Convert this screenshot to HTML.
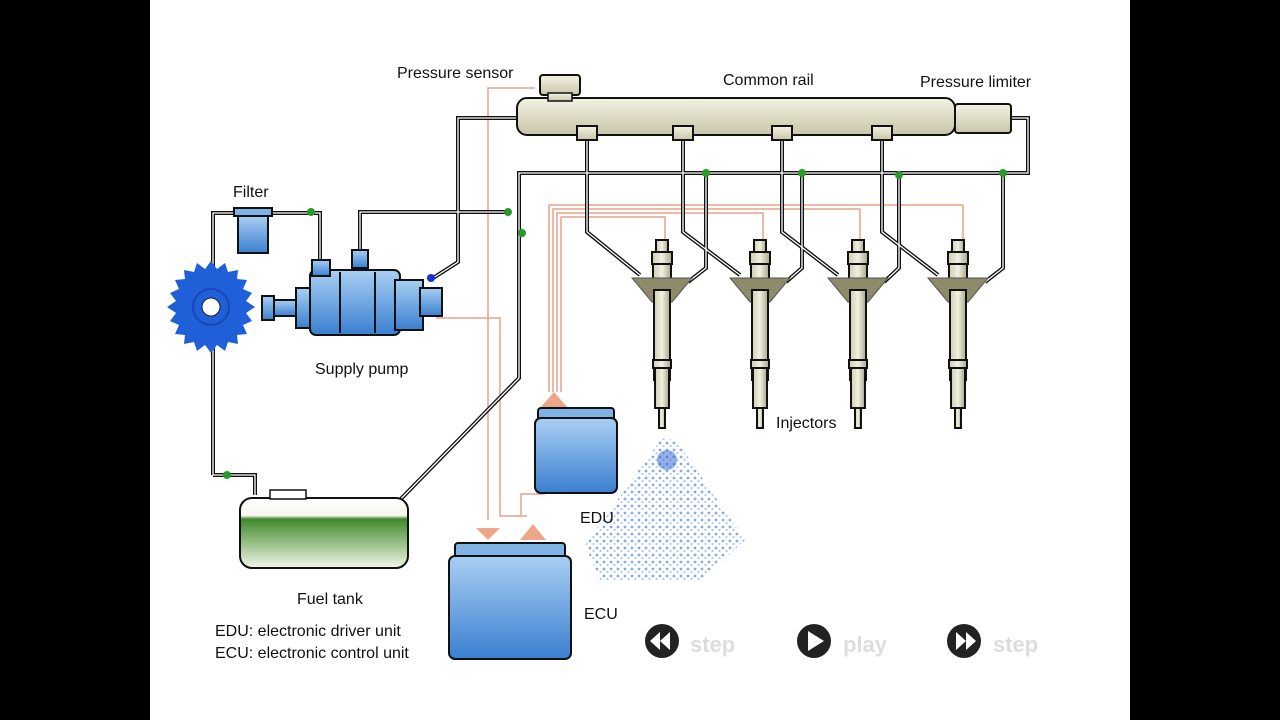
<!DOCTYPE html>
<html><head><meta charset="utf-8"><style>
html,body{margin:0;padding:0;background:#000;width:1280px;height:720px;overflow:hidden}
svg{display:block}
text{font-family:"Liberation Sans",sans-serif;font-size:16px;fill:#111}
</style></head><body>
<svg width="1280" height="720" viewBox="0 0 1280 720">
<defs>
<linearGradient id="rail" x1="0" y1="0" x2="0" y2="1"><stop offset="0" stop-color="#f4f2e4"/><stop offset="1" stop-color="#c9c5a8"/></linearGradient>
<linearGradient id="blue" x1="0" y1="0" x2="0" y2="1"><stop offset="0" stop-color="#a9cff3"/><stop offset="1" stop-color="#3b7fd0"/></linearGradient>
<linearGradient id="tank" x1="0" y1="0" x2="0" y2="1"><stop offset="0" stop-color="#fff"/><stop offset="0.25" stop-color="#f6f6ee"/><stop offset="0.3" stop-color="#3f8a2a"/><stop offset="1" stop-color="#f2f6e8"/></linearGradient>
<linearGradient id="inj" x1="0" y1="0" x2="1" y2="0"><stop offset="0" stop-color="#cfcdb4"/><stop offset="0.5" stop-color="#f2f0e0"/><stop offset="1" stop-color="#a9a78c"/></linearGradient>
<pattern id="dots" width="7" height="7" patternUnits="userSpaceOnUse">
<rect width="7" height="7" fill="#fff"/>
<circle cx="2" cy="2" r="1.4" fill="#5b8fe0"/><circle cx="5.5" cy="5" r="1.1" fill="#8fb4ea"/>
</pattern>
<g id="injector">
<rect x="-6" y="0" width="12" height="12" fill="url(#inj)" stroke="#111" stroke-width="2"/>
<rect x="-10" y="12" width="20" height="12" fill="url(#inj)" stroke="#111" stroke-width="2"/>
<rect x="-9" y="24" width="18" height="26" fill="url(#inj)" stroke="#111" stroke-width="2"/>
<polygon points="-30,38 30,38 10,62 -10,62" fill="#8d8b6a" stroke="#555" stroke-width="1"/>
<rect x="-8" y="50" width="16" height="90" fill="url(#inj)" stroke="#111" stroke-width="2"/>
<rect x="-9" y="120" width="18" height="8" fill="url(#inj)" stroke="#111" stroke-width="2"/>
<rect x="-7" y="128" width="14" height="40" fill="url(#inj)" stroke="#111" stroke-width="2"/>
<rect x="-3" y="168" width="6" height="20" fill="url(#inj)" stroke="#111" stroke-width="2"/>
</g>
</defs>
<rect x="0" y="0" width="1280" height="720" fill="#000"/>
<rect x="150" y="0" width="980" height="720" fill="#fff"/>

<g fill="none" stroke="#e9a38a" stroke-width="1.5">
<path d="M535,88 H488 V520"/>
<path d="M436,318 H500 V516 H527"/>
<path d="M549,392 V205 H963 V240"/>
<path d="M553,392 V209 H860 V240"/>
<path d="M557,392 V213 H763 V240"/>
<path d="M561,392 V217 H665 V240"/>
<path d="M521,516 V494 H545"/>
</g>
<polygon points="476,528 500,528 488,540" fill="#eea58a"/>
<polygon points="520,540 546,540 533,524" fill="#eea58a"/>
<polygon points="540,408 568,408 554,392" fill="#eea58a"/>

<g fill="none" stroke="#111" stroke-width="4">
<path d="M213,475 V213 H320 V262"/>
<path d="M360,255 V212 H508"/>
<path d="M430,280 L458,262 V118 H517"/>
<path d="M392,508 L519,378 V173 H1028 V118 H1010"/>
<path d="M587,140 V232 L640,275"/>
<path d="M683,140 V232 L740,275"/>
<path d="M782,140 V232 L838,275"/>
<path d="M882,140 V232 L938,275"/>
<path d="M706,173 V268 L688,282"/>
<path d="M802,173 V268 L786,282"/>
<path d="M899,173 V268 L884,282"/>
<path d="M1003,173 V268 L985,282"/>
<path d="M213,475 H255 V495"/>
</g>
<g fill="none" stroke="#fff" stroke-width="1.3">
<path d="M213,475 V213 H320 V262"/>
<path d="M360,255 V212 H508"/>
<path d="M430,280 L458,262 V118 H517"/>
<path d="M392,508 L519,378 V173 H1028 V118 H1010"/>
<path d="M587,140 V232 L640,275"/>
<path d="M683,140 V232 L740,275"/>
<path d="M782,140 V232 L838,275"/>
<path d="M882,140 V232 L938,275"/>
<path d="M706,173 V268 L688,282"/>
<path d="M802,173 V268 L786,282"/>
<path d="M899,173 V268 L884,282"/>
<path d="M1003,173 V268 L985,282"/>
<path d="M213,475 H255 V495"/>
</g>
<g fill="#2a9a2a">
<circle cx="311" cy="212" r="4"/><circle cx="508" cy="212" r="4"/><circle cx="522" cy="233" r="4"/>
<circle cx="706" cy="173" r="4"/><circle cx="802" cy="173" r="4"/><circle cx="899" cy="175" r="4"/><circle cx="1003" cy="173" r="4"/><circle cx="227" cy="475" r="4"/>
</g>
<circle cx="431" cy="278" r="4" fill="#1a2fd0"/>

<rect x="517" y="98" width="438" height="37" rx="10" fill="url(#rail)" stroke="#111" stroke-width="2"/>
<rect x="955" y="104" width="56" height="29" rx="3" fill="url(#rail)" stroke="#111" stroke-width="2"/>
<rect x="540" y="75" width="40" height="20" rx="3" fill="url(#rail)" stroke="#111" stroke-width="2"/>
<rect x="548" y="93" width="24" height="8" fill="url(#rail)" stroke="#111" stroke-width="1.5"/>
<g fill="url(#rail)" stroke="#111" stroke-width="2">
<rect x="577" y="126" width="20" height="14"/><rect x="673" y="126" width="20" height="14"/><rect x="772" y="126" width="20" height="14"/><rect x="872" y="126" width="20" height="14"/>
</g>

<use href="#injector" x="662" y="240"/>
<use href="#injector" x="760" y="240"/>
<use href="#injector" x="858" y="240"/>
<use href="#injector" x="958" y="240"/>

<rect x="234" y="208" width="38" height="8" fill="#7fb3e6" stroke="#111" stroke-width="2"/>
<rect x="238" y="216" width="30" height="37" fill="url(#blue)" stroke="#111" stroke-width="2"/>

<g transform="translate(211,307)">
<polygon fill="#1f5fd8" points="0,-46 6,-38 14,-44 17,-35 27,-37 26,-28 36,-27 32,-18 41,-14 35,-6 44,0 35,6 41,14 32,18 36,27 26,28 27,37 17,35 14,44 6,38 0,46 -6,38 -14,44 -17,35 -27,37 -26,28 -36,27 -32,18 -41,14 -35,6 -44,0 -35,-6 -41,-14 -32,-18 -36,-27 -26,-28 -27,-37 -17,-35 -14,-44 -6,-38"/>
<circle r="18" fill="none" stroke="#1848b0" stroke-width="2"/>
<circle r="9" fill="#fff" stroke="#123" stroke-width="1"/>
</g>

<g stroke="#111" stroke-width="2" fill="url(#blue)">
<rect x="262" y="296" width="12" height="24"/>
<rect x="274" y="300" width="30" height="16"/>
<rect x="296" y="288" width="20" height="40"/>
<rect x="310" y="270" width="90" height="65" rx="6"/>
<rect x="395" y="280" width="28" height="50"/>
<rect x="420" y="288" width="22" height="28"/>
<rect x="312" y="260" width="18" height="16"/>
<rect x="352" y="250" width="16" height="18"/>
<line x1="340" y1="272" x2="340" y2="333"/>
<line x1="375" y1="272" x2="375" y2="333"/>
</g>
<rect x="538" y="408" width="76" height="12" rx="3" fill="#7fb3e6" stroke="#111" stroke-width="2"/>
<rect x="535" y="418" width="82" height="75" rx="6" fill="url(#blue)" stroke="#111" stroke-width="2"/>
<rect x="455" y="543" width="110" height="15" rx="3" fill="#7fb3e6" stroke="#111" stroke-width="2"/>
<rect x="449" y="556" width="122" height="103" rx="6" fill="url(#blue)" stroke="#111" stroke-width="2"/>

<polygon points="662,438 676,440 745,540 700,582 600,580 585,545" fill="url(#dots)" opacity="0.75"/>
<circle cx="667" cy="460" r="10" fill="#2a62d0" opacity="0.5"/>

<rect x="240" y="498" width="168" height="70" rx="12" fill="url(#tank)" stroke="#111" stroke-width="2"/>
<rect x="270" y="490" width="36" height="9" fill="#fff" stroke="#111" stroke-width="1.5"/>

<text x="397" y="78">Pressure sensor</text>
<text x="723" y="85">Common rail</text>
<text x="920" y="87">Pressure limiter</text>
<text x="233" y="197">Filter</text>
<text x="315" y="374">Supply pump</text>
<text x="776" y="428">Injectors</text>
<text x="580" y="523">EDU</text>
<text x="584" y="619">ECU</text>
<text x="297" y="604">Fuel tank</text>
<text x="215" y="636">EDU: electronic driver unit</text>
<text x="215" y="658">ECU: electronic control unit</text>

<g>
<circle cx="662" cy="641" r="17" fill="#222"/>
<polygon points="660,632 660,650 650,641" fill="#fff"/><polygon points="670,632 670,650 660,641" fill="#fff"/>
<text x="690" y="652" style="font-size:22px;font-weight:bold;fill:#ddd">step</text>
<circle cx="814" cy="641" r="17" fill="#222"/>
<polygon points="808,631 808,651 824,641" fill="#fff"/>
<text x="843" y="652" style="font-size:22px;font-weight:bold;fill:#ddd">play</text>
<circle cx="964" cy="641" r="17" fill="#222"/>
<polygon points="956,632 956,650 966,641" fill="#fff"/><polygon points="966,632 966,650 976,641" fill="#fff"/>
<text x="993" y="652" style="font-size:22px;font-weight:bold;fill:#ddd">step</text>
</g>
</svg>
</body></html>
